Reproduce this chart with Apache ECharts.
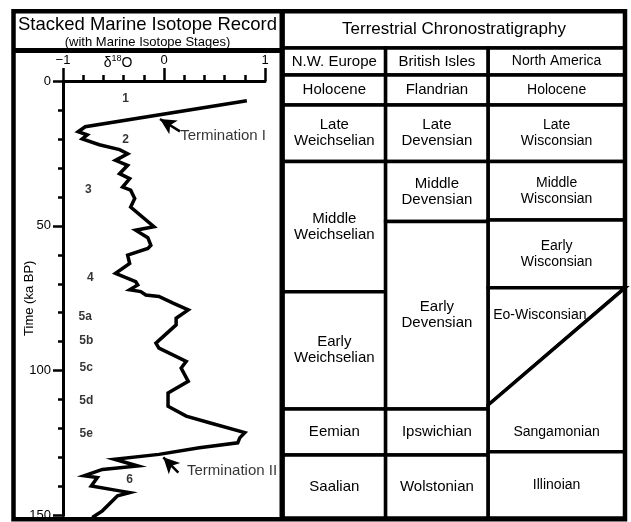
<!DOCTYPE html>
<html>
<head>
<meta charset="utf-8">
<script src="https://cdn.jsdelivr.net/npm/echarts@6.0.0/dist/echarts.min.js"></script>
<style>
html, body { margin: 0; padding: 0; background: #fff; }
#chart { width: 631px; height: 522px; }
</style>
</head>
<body>
<div id="chart"></div>
<script>
// ---------------- data ----------------
// Stacked marine isotope record: age (ka BP) and delta-18O (normalised)
const ageKa = [6.8, 15.8, 17.5, 18.6, 20.0, 22.0, 23.7, 25.1, 27.4, 29.1, 32.0, 33.7, 36.6, 37.7, 40.6, 43.5,
  50.3, 51.5, 54.1, 56.7, 57.8, 60.1, 63.0, 66.4, 69.3, 70.4, 72.1, 72.7, 73.9, 74.4, 76.7, 79.0, 81.9, 84.2,
  90.5, 92.2, 96.8, 99.1, 103.7, 107.7, 112.3, 115.7, 118.0, 121.4, 123.2, 124.9, 126.6, 128.9, 130.6, 132.9,
  134.1, 136.3, 136.9, 139.8, 141.5, 142.1, 143.2, 148.4, 150.7];
const d18O = [0.82, -0.78, -0.85, -0.76, -0.81, -0.64, -0.44, -0.36, -0.48, -0.36, -0.44, -0.34, -0.41, -0.33, -0.29, -0.33,
  -0.10, -0.28, -0.16, -0.13, -0.16, -0.36, -0.34, -0.48, -0.28, -0.26, -0.34, -0.23, -0.18, -0.05, 0.09, 0.24, 0.12, 0.12,
  -0.08, -0.05, 0.22, 0.17, 0.24, 0.04, 0.04, 0.22, 0.45, 0.80, 0.75, 0.73, 0.35, -0.05, -0.49, -0.26,
  -0.61, -0.79, -0.66, -0.72, -0.44, -0.34, -0.46, -0.61, -0.71];

// Marine isotope stage labels
const stageNames = ['1', '2', '3', '4', '5a', '5b', '5c', '5d', '5e', '6'];
const stageAge = [6.2, 20.2, 37.5, 67.9, 81.5, 89.7, 99.1, 110.3, 121.8, 137.8];
const stageD18O = [-0.38, -0.38, -0.75, -0.73, -0.78, -0.77, -0.77, -0.77, -0.77, -0.34];

// Terminations: arrow tip, arrow tail, text anchor  ([d18O, age])
const terminationNames = ['Termination I', 'Termination II'];
const terminationTip = [[-0.04, 13.1], [-0.007, 129.9]];
const terminationTail = [[0.158, 17.4], [0.142, 135.2]];
const terminationText = [[0.16, 18.8], [0.228, 134.6]];

// Axis ticks
const d18OTicks = [-1, 0, 1];
const ageTicks = [0, 50, 100, 150];

// Terrestrial chronostratigraphy table (boundaries in ka BP)
const tableTitle = 'Terrestrial Chronostratigraphy';
const tableTitleBounds = [-23.9, -11.3];
const regionNames = ['N.W. Europe', 'British Isles', 'North America'];
const regionHeaderBounds = [-11.3, -2.1];
const columnEdges = [0, 0.3, 0.6, 1];
const nwEuropeStages = ['Holocene', 'Late\nWeichselian', 'Middle\nWeichselian', 'Early\nWeichselian', 'Eemian', 'Saalian'];
const nwEuropeBounds = [-2.1, 8.2, 27.6, 72.3, 112.6, 128.4, 150];
const britishStages = ['Flandrian', 'Late\nDevensian', 'Middle\nDevensian', 'Early\nDevensian', 'Ipswichian', 'Wolstonian'];
const britishBounds = [-2.1, 8.2, 27.6, 48.2, 112.6, 128.4, 150];
const northAmericaStages = ['Holocene', 'Late\nWisconsian', 'Middle\nWisconsian', 'Early\nWisconsian', 'Eo-Wisconsian', 'Sangamonian', 'Illinoian'];
const northAmericaBounds = [-2.1, 8.2, 27.6, 47.7, 71.0, 111.2, 127.3, 150];
const eoWisconsianLabel = [0.751, 80.3];
const sangamonianLabel = [0.8, 120.5];

// ---------------- build ----------------
const FONT = '"Liberation Sans", Arial, Helvetica, sans-serif';
const AX_TOP = 81, AX_BOTTOM = 518;
const pxPerKa = (AX_BOTTOM - AX_TOP) / 150;
const TABLE_MIN = -25;

const isoData = ageKa.map((t, i) => [d18O[i], t]);
const stageData = stageNames.map((n, i) => ({ name: n, value: [stageD18O[i], stageAge[i]] }));
const termTextData = terminationNames.map((n, i) => ({ name: n, value: terminationText[i] }));
const arrowData = terminationNames.map((n, i) => [
  { coord: terminationTail[i] },
  { coord: terminationTip[i] }
]);

function rect(x0, x1, t0, t1) { return [[x0, t0], [x1, t0], [x1, t1], [x0, t1]]; }

const cells = [];
cells.push({ name: tableTitle, size: 17, poly: rect(0, 1, tableTitleBounds[0], tableTitleBounds[1]),
  label: [0.5, (tableTitleBounds[0] + tableTitleBounds[1]) / 2] });
regionNames.forEach((n, i) => {
  const x0 = columnEdges[i], x1 = columnEdges[i + 1];
  cells.push({ name: n, size: i === 2 ? 14 : 15, poly: rect(x0, x1, regionHeaderBounds[0], regionHeaderBounds[1]),
    label: [(x0 + x1) / 2, (regionHeaderBounds[0] + regionHeaderBounds[1]) / 2] });
});
function addColumn(ci, names, bounds, size) {
  const x0 = columnEdges[ci], x1 = columnEdges[ci + 1];
  names.forEach((n, k) => {
    const t0 = bounds[k], t1 = bounds[k + 1];
    cells.push({ name: n, size: size, poly: rect(x0, x1, t0, t1), label: [(x0 + x1) / 2, (t0 + t1) / 2] });
  });
}
addColumn(0, nwEuropeStages, nwEuropeBounds, 15);
addColumn(1, britishStages, britishBounds, 15);
(function () {
  const x0 = columnEdges[2], x1 = columnEdges[3];
  const b = northAmericaBounds;
  northAmericaStages.forEach((n, k) => {
    let poly, label;
    if (n === 'Eo-Wisconsian') {
      poly = [[x0, b[4]], [x1, b[4]], [x0, b[5]]];
      label = eoWisconsianLabel;
    } else if (n === 'Sangamonian') {
      poly = [[x0, b[5]], [x1, b[4]], [x1, b[6]], [x0, b[6]]];
      label = sangamonianLabel;
    } else {
      const t0 = k === 6 ? b[6] : b[k], t1 = k === 6 ? b[7] : b[k + 1];
      poly = rect(x0, x1, t0, t1);
      label = [(x0 + x1) / 2, (t0 + t1) / 2];
    }
    cells.push({ name: n, size: 14, poly: poly, label: label });
  });
})();

const chart = echarts.init(document.getElementById('chart'), null, { renderer: 'canvas' });
const option = {
  animation: false,
  backgroundColor: '#fff',
  textStyle: { fontFamily: FONT, color: '#000' },
  grid: [
    { left: 63, top: AX_TOP, width: 202, height: AX_BOTTOM - AX_TOP },
    { left: 283, top: AX_TOP + TABLE_MIN * pxPerKa, width: 342, height: AX_BOTTOM - (AX_TOP + TABLE_MIN * pxPerKa) }
  ],
  xAxis: [
    {
      type: 'value', gridIndex: 0, position: 'top', min: -1, max: 1, interval: 1,
      axisLine: { show: true, onZero: false, lineStyle: { color: '#000', width: 3 } },
      axisTick: { show: true, length: 13, lineStyle: { color: '#000', width: 2.5 } },
      minorTick: { show: true, splitNumber: 5, length: 6, lineStyle: { color: '#000', width: 2.5 } },
      axisLabel: { color: '#000', fontSize: 13, margin: 14, fontFamily: FONT,
        formatter: v => (d18OTicks.indexOf(v) >= 0 ? String(v).replace('-', '\u2212') : '') },
      splitLine: { show: false }, minorSplitLine: { show: false }
    },
    { type: 'value', gridIndex: 1, min: 0, max: 1, show: false }
  ],
  yAxis: [
    {
      type: 'value', gridIndex: 0, inverse: true, min: 0, max: 150, interval: 50, position: 'left',
      name: 'Time (ka BP)', nameLocation: 'middle', nameGap: 27, nameRotate: 90, nameMoveOverlap: false,
      nameTextStyle: { fontSize: 13, color: '#000', fontFamily: FONT },
      axisLine: { show: true, onZero: false, lineStyle: { color: '#000', width: 3 } },
      axisTick: { show: true, length: 10, lineStyle: { color: '#000', width: 2.5 } },
      minorTick: { show: true, splitNumber: 5, length: 5, lineStyle: { color: '#000', width: 2.5 } },
      axisLabel: { color: '#000', fontSize: 13, margin: 12, fontFamily: FONT,
        formatter: v => (ageTicks.indexOf(v) >= 0 ? String(v) : '') },
      splitLine: { show: false }, minorSplitLine: { show: false }
    },
    { type: 'value', gridIndex: 1, inverse: true, min: TABLE_MIN, max: 150, show: false }
  ],
  graphic: [
    { type: 'text', z: 50, style: { text: 'Stacked Marine Isotope Record', x: 147.5, y: 25, align: 'center', verticalAlign: 'middle', fontSize: 18.5, fontFamily: FONT, fill: '#000' } },
    { type: 'text', z: 50, style: { text: '(with Marine Isotope Stages)', x: 147.5, y: 42.5, align: 'center', verticalAlign: 'middle', fontSize: 13, fontFamily: FONT, fill: '#000' } },
    { type: 'text', z: 50, style: { text: '{a|\u03b4}{b|18}{a|O}', x: 118, y: 63, align: 'center', verticalAlign: 'middle', fontFamily: FONT, fill: '#000',
        rich: { a: { fontSize: 14, fontFamily: FONT }, b: { fontSize: 9, fontFamily: FONT, padding: [0, 0, 9, 0] } } } },
    { type: 'rect', z: 100, shape: { x: 13.5, y: 11.3, width: 611.5, height: 508 }, style: { fill: 'none', stroke: '#000', lineWidth: 4.5 } },
    { type: 'line', z: 100, shape: { x1: 282, y1: 11, x2: 282, y2: 520 }, style: { stroke: '#000', lineWidth: 5 } },
    { type: 'line', z: 100, shape: { x1: 13, y1: 50.5, x2: 282, y2: 50.5 }, style: { stroke: '#000', lineWidth: 5 } }
  ],
  series: [
    {
      type: 'line', xAxisIndex: 0, yAxisIndex: 0, data: isoData, symbol: 'none', clip: true,
      lineStyle: { color: '#000', width: 3.5, join: 'miter' }, silent: true,
      markLine: {
        silent: true, symbol: ['none', 'arrow'], symbolSize: [12, 16],
        label: { show: false },
        lineStyle: { color: '#000', width: 2.5, type: 'solid' },
        emphasis: { disabled: true },
        data: arrowData
      }
    },
    {
      type: 'scatter', xAxisIndex: 0, yAxisIndex: 0, data: stageData, symbolSize: 0, silent: true,
      label: { show: true, position: 'inside', formatter: '{b}', fontSize: 12, fontWeight: 'bold', color: '#000', fontFamily: FONT }
    },
    {
      type: 'scatter', xAxisIndex: 0, yAxisIndex: 0, data: termTextData, symbolSize: 0, silent: true, clip: false,
      label: { show: true, position: 'right', distance: 0, formatter: '{b}', fontSize: 15, color: '#000', fontFamily: FONT }
    },
    {
      type: 'custom', xAxisIndex: 1, yAxisIndex: 1, silent: true,
      data: cells.map(c => c.label),
      renderItem: function (params, api) {
        const c = cells[params.dataIndex];
        const pts = c.poly.map(p => api.coord(p));
        const lp = api.coord(c.label);
        return {
          type: 'group',
          children: [
            { type: 'polygon', shape: { points: pts }, style: { fill: '#fff', stroke: '#000', lineWidth: 3.5 } },
            { type: 'text', style: { text: c.name, x: lp[0], y: lp[1], align: 'center', verticalAlign: 'middle',
                fontSize: c.size, fontFamily: FONT, fill: '#000', lineHeight: 16 } }
          ]
        };
      }
    }
  ]
};
chart.setOption(option);
</script>
</body>
</html>
